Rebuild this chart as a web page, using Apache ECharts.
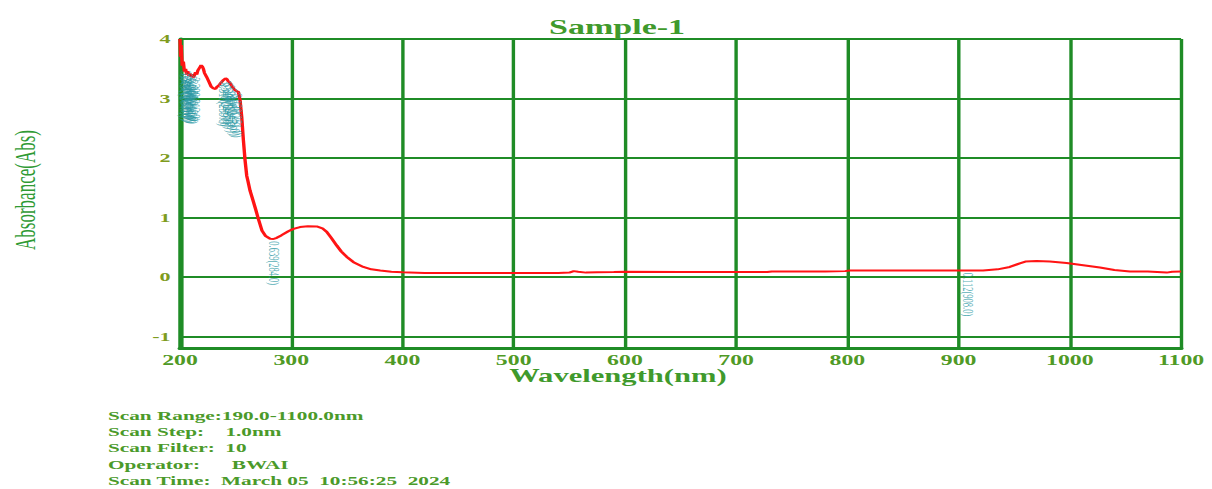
<!DOCTYPE html>
<html>
<head>
<meta charset="utf-8">
<script src="https://cdn.jsdelivr.net/npm/echarts@6/dist/echarts.min.js"></script>
<style>
  html, body { margin: 0; padding: 0; background: #fff; overflow: hidden; }
  #chart { position: absolute; left: 0; top: 0; transform-origin: 0 0; }
</style>
</head>
<body>
<div id="chart"></div>
<script>
// Horizontal stretch of the instrument printout
const SX = 1.7;
const PAGE_W = 1212, PAGE_H = 489;

// Spectrum: wavelength (nm) and absorbance (Abs)
const wavelength = [
  200, 200.5, 201, 202, 203, 204, 205, 206, 207, 208, 209, 210, 211, 212, 213, 214, 215, 216, 217, 218,
  219, 220, 221, 222, 224, 226, 228, 230, 232, 233, 235, 237, 239, 241, 242, 243, 245, 247, 249, 251,
  252.5, 254, 255.5, 257, 258.5, 260, 261, 263, 265.6, 268, 270.1, 273.7, 277, 281, 284, 287, 291, 297.4,
  302, 307.9, 315, 322.9, 328, 331.9, 336, 340.9, 345, 349.9, 356, 364.8, 372, 380, 390, 400, 420, 450,
  500, 540, 550, 554, 558, 565, 575, 590, 600, 650, 700, 728, 732, 780, 798, 802, 850, 900, 922, 935,
  946, 955, 960, 970, 982, 997, 1012, 1027, 1040, 1054, 1070, 1087, 1092, 1100
];
const absorbance = [
  4.00, 3.70, 3.90, 3.55, 3.62, 3.45, 3.50, 3.40, 3.46, 3.38, 3.42, 3.36, 3.41, 3.35, 3.39, 3.44, 3.40, 3.47, 3.50, 3.53,
  3.56, 3.54, 3.50, 3.43, 3.36, 3.28, 3.20, 3.17, 3.16, 3.19, 3.22, 3.27, 3.31, 3.34, 3.33, 3.30, 3.26, 3.20, 3.15, 3.12,
  3.11, 2.97, 2.69, 2.30, 1.96, 1.70, 1.62, 1.45, 1.29, 1.14, 1.00, 0.78, 0.69, 0.645, 0.64, 0.66, 0.70, 0.77,
  0.81, 0.84, 0.855, 0.85, 0.82, 0.76, 0.66, 0.53, 0.43, 0.34, 0.25, 0.17, 0.13, 0.11, 0.09, 0.08, 0.07, 0.07,
  0.07, 0.07, 0.075, 0.10, 0.09, 0.075, 0.08, 0.085, 0.09, 0.085, 0.085, 0.085, 0.095, 0.095, 0.10, 0.11, 0.11, 0.11, 0.11, 0.13,
  0.17, 0.23, 0.26, 0.27, 0.26, 0.235, 0.20, 0.16, 0.12, 0.095, 0.095, 0.075, 0.09, 0.095
];

// Picked peaks / valleys
const peakNm  = [204, 205, 206, 207, 208, 209, 210, 211, 212, 213, 239, 241, 243, 245, 247, 249, 251, 284, 908];
const peakAbs = [3.45, 3.50, 3.40, 3.46, 3.38, 3.42, 3.36, 3.41, 3.35, 3.39, 3.31, 3.34, 3.30, 3.26, 3.20, 3.15, 3.12, 0.639, 0.112];

// Axis ticks
const xTicks = [200, 300, 400, 500, 600, 700, 800, 900, 1000, 1100];
const yTicks = [-1, 0, 1, 2, 3, 4];

const scanInfo = [
  'Scan Range:190.0-1100.0nm',
  'Scan Step:    1.0nm',
  'Scan Filter:  10',
  'Operator:      BWAI',
  'Scan Time:  March 05  10:56:25  2024'
];

const W = PAGE_W / SX;
const el = document.getElementById('chart');
el.style.width = W + 'px';
el.style.height = PAGE_H + 'px';
el.style.transform = 'scaleX(' + SX + ')';

const SERIF = '"Liberation Serif", "DejaVu Serif", serif';
const GRID_GREEN = '#1f8c26';
const TEXT_GREEN = '#3f9a2c';

const spectrum = wavelength.map((w, i) => [w, absorbance[i]]);
const peaks = peakNm.map((w, i) => [w, peakAbs[i]]);

const chart = echarts.init(el, null, { renderer: 'svg' });

chart.setOption({
  animation: false,
  title: {
    text: 'Sample-1',
    left: 318,
    top: 12,
    textStyle: { fontFamily: SERIF, fontSize: 20, fontWeight: 'bold', color: TEXT_GREEN }
  },
  grid: {
    left: 180 / SX,
    right: W - 1181 / SX,
    top: 39,
    bottom: PAGE_H - 348.5,
    show: false
  },
  xAxis: {
    type: 'value',
    min: 200,
    max: 1100,
    interval: 100,
    axisLine: { show: true, onZero: false, lineStyle: { color: GRID_GREEN, width: 3 } },
    axisTick: { show: false },
    splitLine: { show: true, lineStyle: { color: GRID_GREEN, width: 2 } },
    axisLabel: {
      margin: 5,
      fontFamily: SERIF, fontSize: 14, fontWeight: 'bold', color: '#4f9a26',
      showMaxLabel: true, showMinLabel: true,
      formatter: v => (xTicks.indexOf(v) >= 0 ? String(v) : '')
    }
  },
  yAxis: {
    type: 'value',
    min: -1.2,
    max: 4,
    axisLine: { show: true, onZero: false, lineStyle: { color: GRID_GREEN, width: 3 } },
    axisTick: { show: false, customValues: yTicks },
    splitLine: { show: true, lineStyle: { color: GRID_GREEN, width: 2 } },
    axisLabel: {
      customValues: yTicks,
      margin: 5.5,
      fontFamily: SERIF, fontSize: 13, fontWeight: 'bold', color: '#7f9c1e'
    }
  },
  graphic: [
    {
      type: 'text',
      left: 618 / SX - 64,
      top: 367,
      style: { text: 'Wavelength(nm)', font: 'bold 18px ' + SERIF, fill: TEXT_GREEN }
    },
    {
      type: 'text',
      x: 14.7,
      y: 190,
      rotation: Math.PI / 2,
      style: {
        text: 'Absorbance(Abs)', font: '17px ' + SERIF, fill: '#2f9a34',
        align: 'center', verticalAlign: 'middle'
      }
    }
  ].concat(scanInfo.map((t, i) => ({
    type: 'text',
    left: 108 / SX,
    top: 409 + i * 16.3,
    style: { text: t, font: 'bold 12.5px ' + SERIF, fill: '#4b9a2a' }
  }))),
  series: [
    {
      type: 'line',
      data: spectrum,
      showSymbol: false,
      silent: true,
      lineStyle: { color: '#ff1414', width: 2 },
      z: 3
    },
    {
      type: 'scatter',
      data: peaks,
      symbolSize: 0.5,
      itemStyle: { color: 'rgba(0,0,0,0)' },
      silent: true,
      z: 4,
      labelLayout: { hideOverlap: false },
      label: {
        show: true,
        position: 'bottom',
        distance: 2,
        rotate: -90,
        align: 'left',
        verticalAlign: 'middle',
        fontFamily: SERIF,
        fontSize: 8.5,
        color: '#2a98a4',
        formatter: p => p.value[1].toFixed(3) + '(' + p.value[0].toFixed(1) + ')'
      }
    }
  ]
});
</script>
</body>
</html>
